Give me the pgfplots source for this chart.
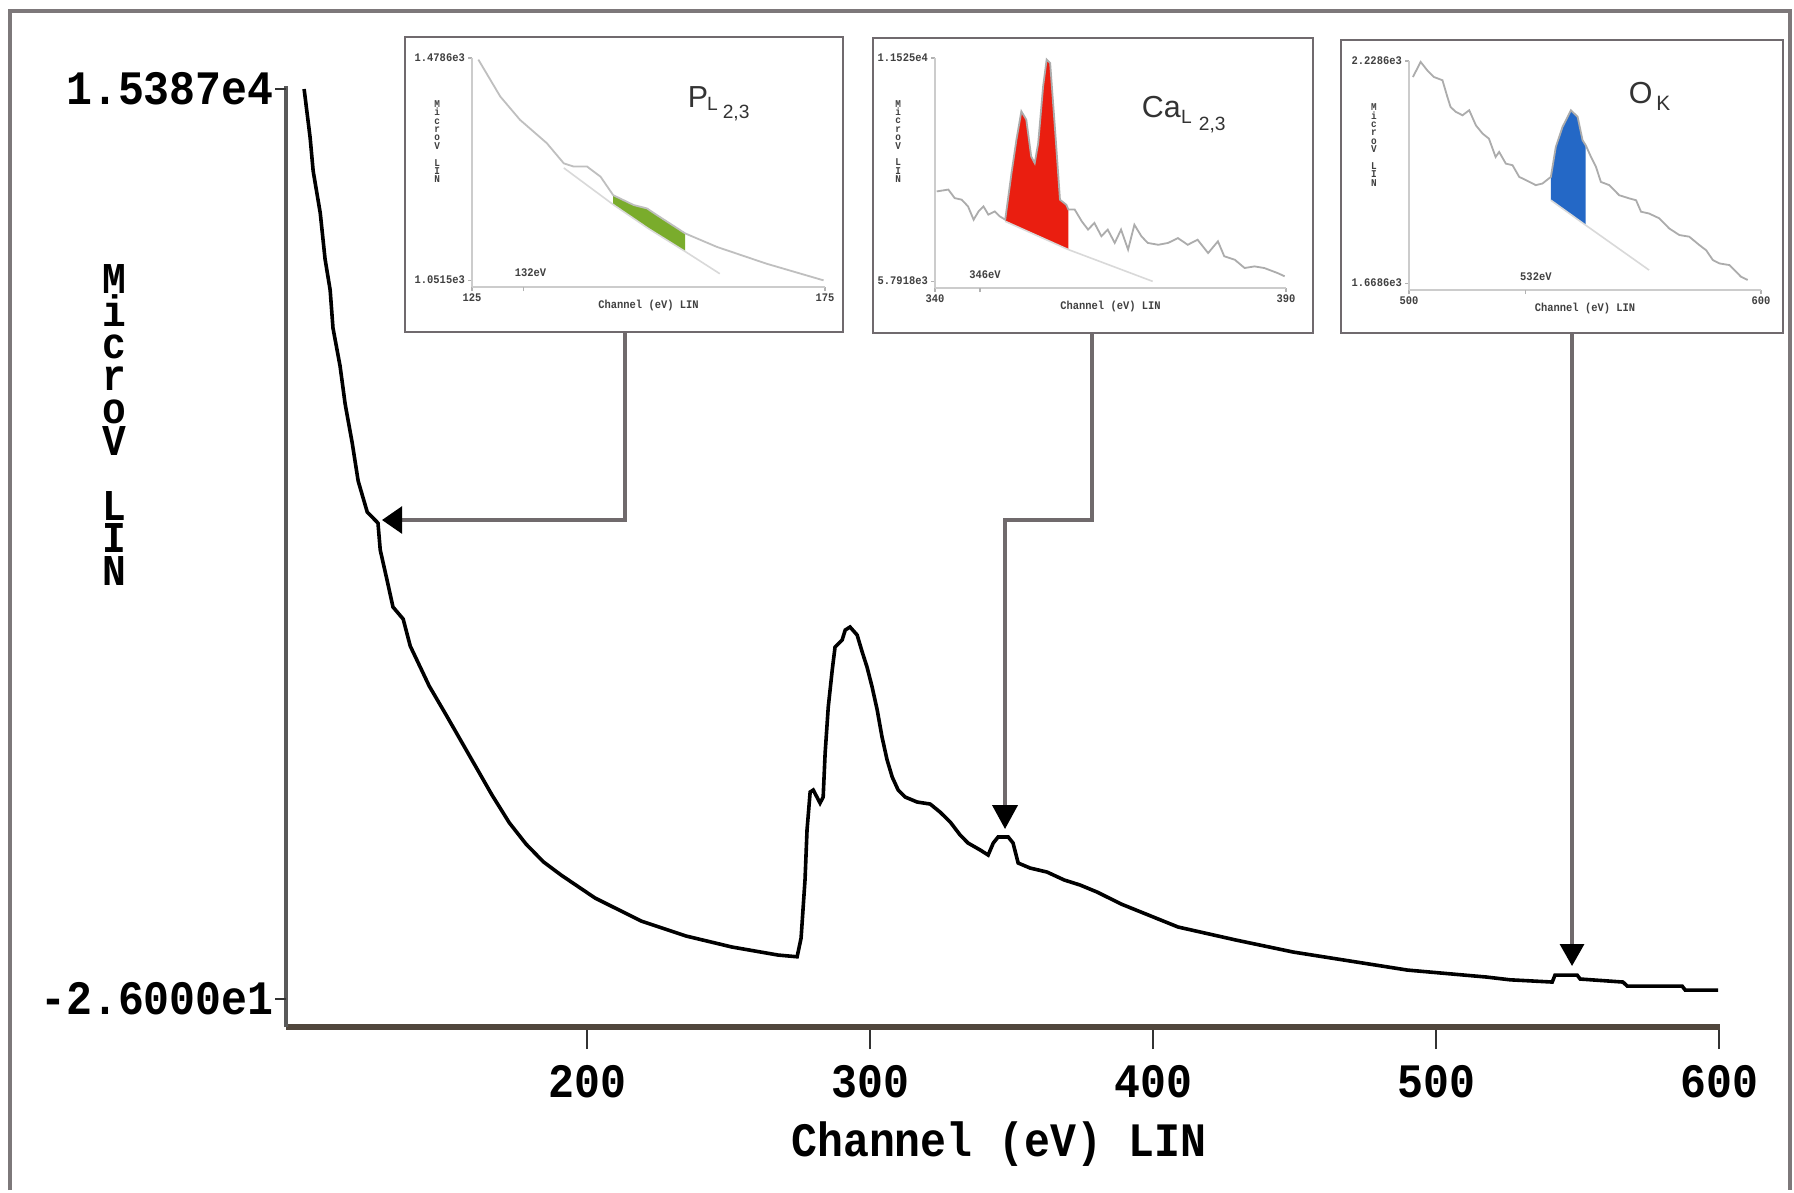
\documentclass[border=0pt]{standalone}
\usepackage{pgfplots}
\pgfplotsset{compat=1.18}
\usepackage{fontspec}
\usetikzlibrary{arrows.meta}
\newfontfamily\monob[FakeStretch=0.9]{Liberation Mono}
\newfontfamily\sansf{Liberation Sans}
\definecolor{framec}{RGB}{125,120,122}
\definecolor{boxc}{RGB}{112,106,110}
\definecolor{conn}{RGB}{112,106,108}
\definecolor{pgreen}{RGB}{122,172,44}
\definecolor{cared}{RGB}{234,30,16}
\definecolor{oblue}{RGB}{36,104,198}
\definecolor{axisbrown}{RGB}{80,70,60}
\newcommand{\tk}{\fontsize{2.9}{3.2}\selectfont\monob\bfseries}
\newcommand{\tkstack}{\fontsize{2.6}{2.1}\selectfont\monob\bfseries}
\newcommand{\bigmono}{\fontsize{12}{12}\selectfont\monob\bfseries}
\pgfplotsset{
  inset/.style={
    anchor=south west, scale only axis, clip=false,
    axis x line=bottom, axis y line=left,
    axis line style={-, draw=gray!40, line width=0.7pt},
    ymin=0, ymax=100, scaled y ticks=false, scaled x ticks=false,
    tick align=outside, major tick length=1pt,
    tick style={draw=gray!60, line width=0.3pt},
    /pgf/number format/assume math mode=true,
    tick label style={font=\tk, text=black!75, inner sep=0.6pt},
    xlabel={Channel (eV) LIN},
    xlabel style={font=\tk, text=black!75, at={(axis description cs:0.5,0)}, anchor=center, yshift=-4.6pt},
    ylabel={M\\i\\c\\r\\o\\V\\\mbox{}\\L\\I\\N},
    ylabel style={rotate=-90, align=center, font=\tkstack, text=black!75, anchor=center},
  }
}
\begin{document}
\begin{tikzpicture}
\path[use as bounding box] (0pt,0pt) rectangle (448.5pt,-298pt);
\fill[white] (0pt,0pt) rectangle (448.5pt,-298pt);
\draw[framec, line width=0.8pt] (2.5pt,-297.5pt) -- (2.5pt,-2.75pt) -- (447.5pt,-2.75pt) -- (447.5pt,-297.5pt);

% ---------------- main axis ----------------
\begin{axis}[
  anchor=south west, at={(71.5pt,-256.75pt)},
  scale only axis, width=358.5pt, height=235.25pt,
  xmin=93.6, xmax=600.3, ymin=-500, ymax=15438,
  scaled y ticks=false, scaled x ticks=false,
  axis x line=bottom, axis y line=left,
  axis line style={-},
  x axis line style={draw=axisbrown, line width=1.3pt},
  y axis line style={draw=gray!70!black, line width=1pt},
  xtick={200,300,400,500,600}, xticklabels={200,300,400,500,600},
  ytick={-26,15387}, yticklabels={-2.6000e1,1.5387e4},
  tick align=outside, major tick length=5.5pt,
  xtick style={draw=black!80, line width=0.4pt},
  ytick style={draw=none},
  /pgf/number format/assume math mode=true,
  tick label style={font=\bigmono},
  xticklabel style={yshift=-0.5pt},
  yticklabel style={inner sep=0.5pt, xshift=3.1pt},
  xlabel={Channel (eV) LIN},
  xlabel style={font=\bigmono, at={(axis description cs:0.497,-0.1243)}, anchor=center},
  ylabel={M\\i\\c\\r\\o\\V\\\mbox{}\\L\\I\\N},
  ylabel style={rotate=-90, align=center, font=\fontsize{11}{8.1}\selectfont\monob\bfseries, at={(axis description cs:-0.12,0.6397)}, anchor=center},
  clip=false,
]
\addplot[black, line width=0.9pt] coordinates {
(100,15387) (102.1,14574) (103.2,13998) (105.7,13287) (107.4,12508) (109.2,11983)
(110.2,11339) (112.7,10696) (114.5,10052) (117.0,9391) (119.1,8748) (122.3,8223)
(126.1,8036) (126.9,7579) (129.3,7071) (131.4,6614) (135.0,6410) (137.5,5953)
(144.2,5276) (150.2,4784) (158.3,4107) (166.4,3429) (172.5,2960) (178.4,2600) (184.5,2300) (190.8,2074)
(202.8,1685) (219.1,1295) (235,1041) (251.2,855) (267.5,719) (274.2,690)
(275.6,1007) (277.0,2000) (277.7,2837) (278.8,3480) (279.9,3514) (282.3,3294)
(283.4,3395) (284.1,4141) (285.2,4920) (286.6,5546) (287.6,5936) (290.1,6055)
(291.2,6224) (292.9,6275) (295.4,6140) (297.2,5851) (298.9,5597) (300.7,5259)
(302.5,4869) (304.2,4412) (306.0,4022) (307.8,3734) (309.9,3514) (312.4,3395)
(316.6,3311) (321.2,3277) (324.7,3141) (328.3,2972) (331.8,2752) (334.6,2616)
(338.9,2498) (341.7,2413) (343.5,2616) (345.2,2718) (348.8,2718) (350.5,2616)
(352.3,2278) (356.5,2193) (362.5,2125) (368.6,1990) (374.2,1905) (380.2,1786)
(388.7,1583) (408.8,1194) (429.3,973) (449.5,770) (469.6,618) (489.8,465)
(509.9,380) (517.7,347) (526.1,300) (541,262) (542,380) (549.8,380) (550.9,313)
(566,262) (567.5,194) (586.9,194) (588,126) (599.6,126)
};
\draw[black!80, line width=0.6pt] (axis cs:93.6,15387) -- ++(-2.8pt,0pt);
\draw[black!80, line width=0.6pt] (axis cs:93.6,-26) -- ++(-2.8pt,0pt);
\end{axis}

% ---------------- inset P ----------------
\begin{axis}[inset, at={(118pt,-71.75pt)}, width=88.25pt, height=57.25pt,
  xmin=125, xmax=175, xtick={125,175}, xticklabels={125,175},
  extra x ticks={132.3}, extra x tick labels={},
  ytick={3,100}, yticklabels={1.0515e3,1.4786e3},
  ylabel style={at={(axis description cs:-0.099,0.635)}}]
\addplot[draw=none, fill=pgreen] coordinates {(145,40.1) (147.9,35.8) (149.8,34.3) (151.2,31.4) (155.2,23.4) (155.2,15.5) (150,25.5) (145,36)} -- cycle;
\addplot[gray!30, line width=0.4pt] coordinates {(138,52) (145,36) (150,25.5) (155.2,15.5) (160.1,5.8)};
\addplot[gray!50, line width=0.45pt] coordinates {(125.9,99.3) (129.0,83.2) (131.8,73.0) (135.6,62.8) (138.0,54.0) (139.4,52.6) (141.3,52.6) (143.2,48.2) (145.0,40.1) (147.9,35.8) (149.8,34.3) (151.2,31.4) (155.2,23.4) (159.7,17.5) (166.7,10.2) (174.8,2.9)};
\node[font=\tk, text=black!75, inner sep=0pt, xshift=1.75pt, yshift=3.5pt] at (axis cs:132.3,0) {132eV};
\end{axis}

% ---------------- inset Ca ----------------
\begin{axis}[inset, at={(233.75pt,-72pt)}, width=87.75pt, height=57.5pt,
  xmin=340, xmax=390, xtick={340,390}, xticklabels={340,390},
  extra x ticks={346.4}, extra x tick labels={},
  ytick={3,100}, yticklabels={5.7918e3,1.1525e4},
  ylabel style={at={(axis description cs:-0.105,0.637)}}]
\addplot[draw=none, fill=cared] coordinates {(350.0,29.7) (350.9,50.0) (351.6,64.5) (352.3,76.8) (353.0,73.2) (353.7,57.2) (354.2,54.3) (354.7,63.0) (355.4,87.7) (355.9,99.3) (356.4,97.8) (357.1,68.8) (357.8,38.4) (358.7,36.2) (359.0,34.1) (359.0,16.7) (350.0,29.0)} -- cycle;
\addplot[gray!30, line width=0.4pt] coordinates {(350.0,29.0) (359.0,16.7) (371.0,2.9)};
\addplot[gray!65, line width=0.45pt] coordinates {(340.24,42.0) (341.9,42.8) (342.8,39.1) (343.8,38.4) (344.7,35.5) (345.5,29.7) (346.2,33.3) (346.9,35.5) (347.6,31.9) (348.5,33.3) (349.2,31.2) (350.0,29.7) (350.9,50.0) (351.6,64.5) (352.3,76.8) (353.0,73.2) (353.7,57.2) (354.2,54.3) (354.7,63.0) (355.4,87.7) (355.9,99.3) (356.4,97.8) (357.1,68.8) (357.8,38.4) (358.7,36.2) (359.0,34.1) (359.9,34.1) (360.9,29.0) (361.8,25.4) (362.7,28.3) (363.7,22.5) (364.6,25.4) (365.6,19.6) (366.5,25.4) (367.5,16.7) (368.4,27.5) (369.4,22.5) (370.3,19.6) (371.8,18.8) (373.2,19.6) (374.6,21.7) (376.0,18.8) (377.4,21.0) (378.9,15.2) (380.3,20.3) (381.2,13.8) (382.7,12.3) (384.1,8.7) (385.5,9.4) (386.9,8.7) (388.8,6.5) (389.8,5.1)};
\node[font=\tk, text=black!75, inner sep=0pt, xshift=1.25pt, yshift=3.25pt] at (axis cs:346.4,0) {346eV};
\end{axis}

% ---------------- inset O ----------------
\begin{axis}[inset, at={(352.25pt,-72.5pt)}, width=88pt, height=57.25pt,
  xmin=500, xmax=600, xtick={500,600}, xticklabels={500,600},
  extra x ticks={533.2}, extra x tick labels={},
  ytick={3,100}, yticklabels={1.6686e3,2.2286e3},
  ylabel style={at={(axis description cs:-0.0994,0.633)}}]
\addplot[draw=none, fill=oblue] coordinates {(540.3,49.4) (541.7,62.5) (543.6,71.2) (546.0,78.5) (547.9,75.6) (549.3,65.4) (550.2,63.2) (550.2,28.3) (540.3,39.2)} -- cycle;
\addplot[gray!30, line width=0.4pt] coordinates {(540.3,39.2) (550.2,28.3) (568.2,8.7)};
\addplot[gray!65, line width=0.45pt] coordinates {(501.1,93.0) (503.3,99.6) (505.2,95.9) (507.1,93.0) (509.5,91.6) (510.9,84.3) (511.8,79.9) (513.3,77.8) (515.2,76.3) (517.1,78.5) (519.0,71.9) (520.9,68.3) (522.7,66.1) (524.6,58.1) (525.6,60.3) (527.5,55.2) (529.4,54.5) (531.3,49.4) (533.2,48.0) (536.0,45.8) (537.9,46.5) (540.3,49.4) (541.7,62.5) (543.6,71.2) (546.0,78.5) (547.9,75.6) (549.3,65.4) (550.2,63.2) (551.7,58.1) (553.1,53.8) (554.5,47.2) (556.9,45.8) (559.7,41.4) (562.6,40.0) (564.5,39.2) (565.9,34.2) (568.2,33.4) (571.1,31.3) (573.9,26.9) (576.8,24.0) (579.6,23.3) (582.5,19.6) (584.4,17.4) (586.3,13.1) (588.2,11.6) (591.0,10.9) (592.9,8.0) (594.3,5.8) (596.2,4.4)};
\node[font=\tk, text=black!75, inner sep=0pt, xshift=2.5pt, yshift=3.25pt] at (axis cs:533.2,0) {532eV};
\end{axis}

% ---------------- inset frames ----------------
\draw[boxc, line width=0.7pt] (101.25pt,-9.25pt) rectangle (210.75pt,-83pt);
\draw[boxc, line width=0.7pt] (218.25pt,-9.5pt) rectangle (328.25pt,-83.25pt);
\draw[boxc, line width=0.7pt] (335.25pt,-10pt) rectangle (445.75pt,-83.25pt);

% ---------------- inset titles ----------------
\node[anchor=base west, inner sep=0pt, font=\fontsize{7.6}{8}\selectfont\sansf, text=black!80] at (171.75pt,-26.75pt) {P};
\node[anchor=base west, inner sep=0pt, font=\fontsize{4.8}{5}\selectfont\sansf, text=black!80] at (176.6pt,-27.5pt) {L};
\node[anchor=base west, inner sep=0pt, font=\fontsize{4.8}{5}\selectfont\sansf, text=black!80] at (180.5pt,-29.5pt) {2,3};
\node[anchor=base west, inner sep=0pt, font=\fontsize{7.6}{8}\selectfont\sansf, text=black!80] at (285.25pt,-29.25pt) {Ca};
\node[anchor=base west, inner sep=0pt, font=\fontsize{4.8}{5}\selectfont\sansf, text=black!80] at (295.1pt,-30.75pt) {L};
\node[anchor=base west, inner sep=0pt, font=\fontsize{4.8}{5}\selectfont\sansf, text=black!80] at (299.5pt,-32.5pt) {2,3};
\node[anchor=base west, inner sep=0pt, font=\fontsize{7.6}{8}\selectfont\sansf, text=black!80] at (407pt,-25.75pt) {O};
\node[anchor=base west, inner sep=0pt, font=\fontsize{5.2}{5.5}\selectfont\sansf, text=black!80] at (413.9pt,-27.5pt) {K};

% ---------------- connectors ----------------
\draw[conn, line width=0.8pt, -{Triangle[length=5pt, width=6.7pt, color=black]}] (156.25pt,-83pt) -- (156.25pt,-130pt) -- (95.5pt,-130pt);
\draw[conn, line width=0.8pt, -{Triangle[length=6pt, width=6.3pt, color=black]}] (273pt,-83.25pt) -- (273pt,-130pt) -- (251.25pt,-130pt) -- (251.25pt,-207.25pt);
\draw[conn, line width=0.8pt, -{Triangle[length=5.5pt, width=6pt, color=black]}] (393pt,-83.25pt) -- (393pt,-241.5pt);
\end{tikzpicture}
\end{document}
